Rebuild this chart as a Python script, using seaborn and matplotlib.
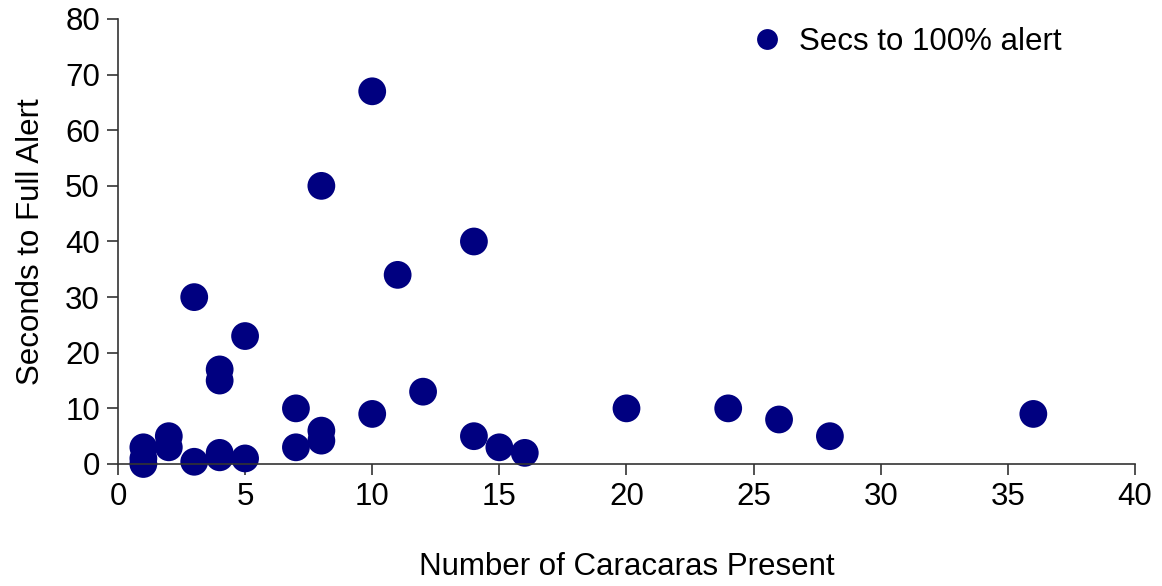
import matplotlib
matplotlib.use("Agg")
import matplotlib.pyplot as plt
import seaborn as sns
import pandas as pd

caracaras = [1, 1, 1, 2, 2, 3, 3, 4, 4, 4, 4, 5, 5, 7, 7, 8, 8, 8, 10, 10, 11, 12, 14, 14, 15, 16, 20, 24, 26, 28, 36]
seconds = [3, 1, 0, 5, 3, 0.4, 30, 17, 15, 2, 1.2, 1, 23, 10, 3, 50, 6, 4.2, 67, 9, 34, 13, 40, 5, 3, 2, 10, 10, 8, 5, 9]
series_label = "Secs to 100% alert"

df = pd.DataFrame({"x": caracaras, "y": seconds, "series": series_label})

sns.set_theme(style="white")
plt.rcParams['font.family'] = ['Liberation Sans', 'DejaVu Sans']
plt.rcParams['text.color'] = 'black'
plt.rcParams['axes.labelcolor'] = 'black'
plt.rcParams['xtick.color'] = 'black'
plt.rcParams['ytick.color'] = 'black'

fig = plt.figure(figsize=(11.62, 5.86), dpi=100)
ax = fig.add_axes([0.1015, 0.2082, 0.8753, 0.7594])
sns.scatterplot(data=df, x="x", y="y", hue="series", palette=["#000080"],
                s=400, edgecolor="none", ax=ax, legend=True)

ax.set_xlim(0, 40)
ax.set_ylim(0, 80)
ax.set_xticks(range(0, 41, 5))
ax.set_yticks(range(0, 81, 10))
ax.tick_params(axis="both", labelsize=22.5, direction="out", length=8, width=1.2,
               color="#333333", labelcolor="black", bottom=True, left=True, pad=5)
for s in ["top", "right"]:
    ax.spines[s].set_visible(False)
for s in ["left", "bottom"]:
    ax.spines[s].set_color("#333333")
    ax.spines[s].set_linewidth(1.2)
ax.set_xlabel("Number of Caracaras Present", fontsize=22.5, labelpad=29, color="black")
ax.set_ylabel("Seconds to Full Alert", fontsize=22.5, labelpad=14, color="black")
for c in ax.collections:
    c.set_clip_on(False)

leg = ax.legend(loc="upper right", bbox_to_anchor=(0.955, 1.045), frameon=False,
                fontsize=22.5, handletextpad=0.0, markerscale=1.0)
for h in leg.legend_handles:
    h.set_markersize(15)
for t in leg.get_texts():
    t.set_color("black")

fig.savefig("out.png", dpi=100)
